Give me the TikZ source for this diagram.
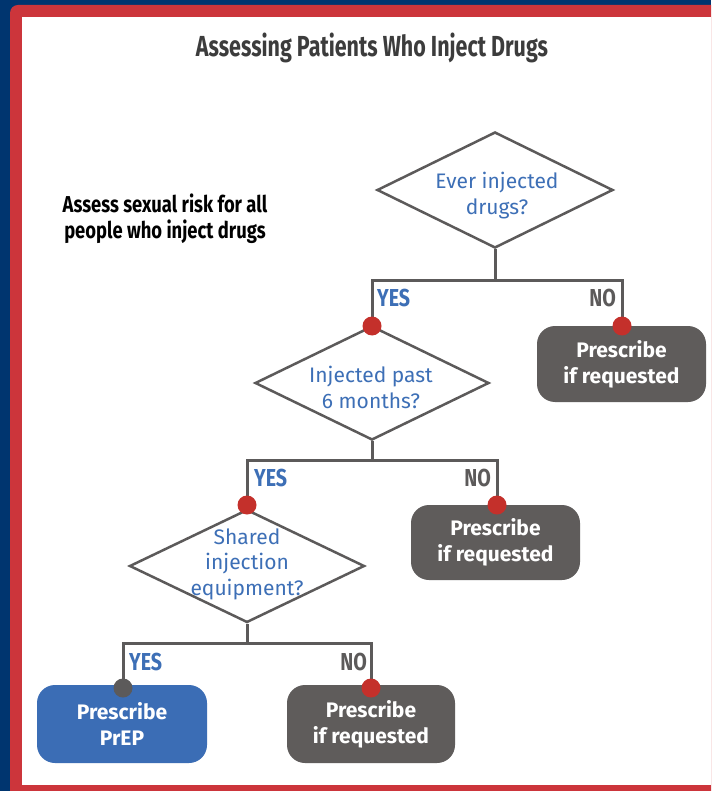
\documentclass[tikz,border=0pt]{standalone}
\usepackage{fontspec}
\setmainfont{Fira Sans}
\newfontfamily\titlefont[FakeStretch=0.74]{Fira Sans}
\newfontfamily\condfont[FakeStretch=0.80]{Fira Sans}
\usetikzlibrary{shapes.geometric}
\definecolor{bgblue}{HTML}{00356F}
\definecolor{framered}{HTML}{CC353B}
\definecolor{txtblue}{HTML}{3D6FB6}
\definecolor{linegray}{HTML}{5C5A5A}
\definecolor{boxgray}{HTML}{5F5C5B}
\definecolor{boxblue}{HTML}{3B6DB5}
\definecolor{dotred}{HTML}{C4302B}
\definecolor{titlegray}{HTML}{3C3C3C}
\tikzset{
  decision/.style={diamond, draw=linegray, line width=2.5pt, fill=white, inner sep=0pt},
  qtext/.style={text=txtblue, font=\fontsize{21}{26}\selectfont, align=center, inner sep=0pt},
  outbox/.style={rounded corners=18pt, fill=boxgray, text=white, font=\bfseries\fontsize{21}{26}\selectfont, align=center, inner sep=0pt},
  conn/.style={draw=linegray, line width=3pt},
  reddot/.style={circle, fill=dotred, minimum size=19pt, inner sep=0pt},
  graydot/.style={circle, fill=linegray, minimum size=19pt, inner sep=0pt},
  yeslab/.style={text=txtblue, font=\condfont\bfseries\fontsize{24.5}{26}\selectfont, inner sep=0pt, anchor=west},
  nolab/.style={text=linegray, font=\condfont\bfseries\fontsize{24.5}{26}\selectfont, inner sep=0pt, anchor=east}
}
\begin{document}
\begin{tikzpicture}[x=1pt,y=-1pt]
\useasboundingbox (0,0) rectangle (711,791);
\begin{scope}
\clip (0,0) rectangle (711,791);
\fill[bgblue] (0,0) rectangle (711,791);
\fill[framered, rounded corners=8pt] (10,5) rectangle (740,800);
\fill[white] (22,17) rectangle (711,785);
\end{scope}

\node[text=titlegray, font=\titlefont\bfseries\fontsize{29}{30}\selectfont, inner sep=0pt] (title) at (372,48) {Assessing Patients Who Inject Drugs};
\node[text=black, font=\condfont\bfseries\fontsize{23}{26}\selectfont, align=center, inner sep=0pt] (note) at (165,219) {Assess sexual risk for all\\people who inject drugs};

% decisions
\node[decision, minimum width=236pt, minimum height=116pt] (d1) at (495,190) {};
\node[decision, minimum width=234pt, minimum height=114pt] (d2) at (372,383) {};
\node[decision, minimum width=235pt, minimum height=113pt] (d3) at (247,566) {};
\node[qtext] (q1) at (497,196) {Ever injected\\drugs?};
\node[qtext] (q2) at (371,387) {Injected past\\6 months?};
\node[qtext, font=\fontsize{21}{25.5}\selectfont] (q3) at (247,564) {Shared\\injection\\equipment?};

% outcome boxes
\node[outbox, minimum width=169pt, minimum height=76pt] (b1) at (621.5,364) {Prescribe\\if requested};
\node[outbox, minimum width=169pt, minimum height=75pt] (b2) at (495.5,542.5) {Prescribe\\if requested};
\node[outbox, fill=boxblue, minimum width=170pt, minimum height=78pt] (b3) at (122,724) {Prescribe\\PrEP};
\node[outbox, minimum width=168pt, minimum height=78pt] (b4) at (371,724) {Prescribe\\if requested};

% junctions
\coordinate (h1) at (495,280);
\coordinate (h2) at (372,460);
\coordinate (h3) at (247,643);
\coordinate (y1) at (372,326);
\coordinate (n1) at (622,326);
\coordinate (y2) at (247,505);
\coordinate (n2) at (497,505);
\coordinate (y3) at (123,688);
\coordinate (n3) at (371,688);

\draw[conn] (d1.south) -- (h1);
\draw[conn] (y1) -- (y1 |- h1) -- (n1 |- h1) -- (n1);
\draw[conn] (d2.south) -- (h2);
\draw[conn] (y2) -- (y2 |- h2) -- (n2 |- h2) -- (n2);
\draw[conn] (d3.south) -- (h3);
\draw[conn] (y3) -- (y3 |- h3) -- (n3 |- h3) -- (n3);

\node[reddot] (dy1) at (y1) {};
\node[reddot] (dn1) at (n1) {};
\node[reddot] (dy2) at (y2) {};
\node[reddot] (dn2) at (n2) {};
\node[graydot] (dy3) at (y3) {};
\node[reddot] (dn3) at (n3) {};

\node[yeslab] (yes1) at (377,298) {YES};
\node[nolab] (no1) at (616,298) {NO};
\node[yeslab] (yes2) at (254,478) {YES};
\node[nolab] (no2) at (491,478) {NO};
\node[yeslab] (yes3) at (129,662) {YES};
\node[nolab] (no3) at (367,662) {NO};
\end{tikzpicture}
\end{document}
